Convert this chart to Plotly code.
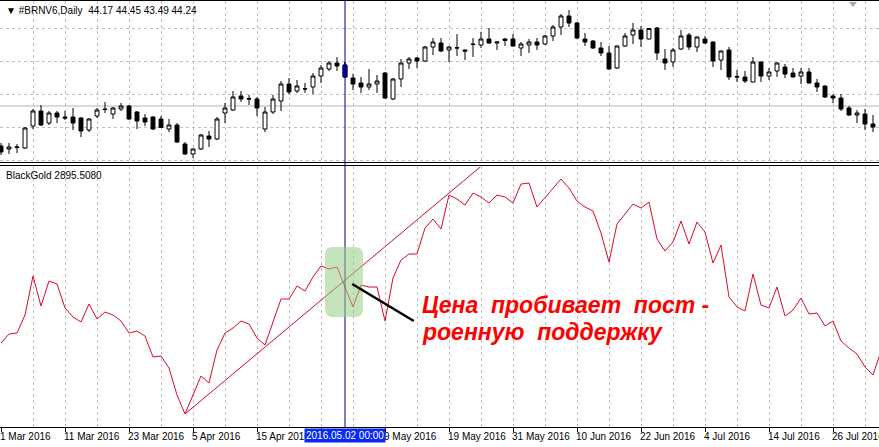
import plotly.graph_objects as go

# ---------------- data ----------------
bar_index = list(range(110))
open_ = [42.82, 42.58, 42.70, 42.66, 44.42, 45.62, 44.66, 45.46, 45.14, 45.14,
         45.06, 44.10, 45.22, 45.78, 45.38, 45.78, 46.02, 45.54, 45.06, 45.14,
         44.98, 44.18, 44.50, 42.98, 42.18, 42.58, 43.62, 43.38, 45.46, 45.70,
         46.82, 46.62, 46.58, 44.18, 45.54, 46.42, 47.78, 47.22, 47.38, 47.54,
         48.42, 48.98, 49.46, 49.30, 48.26, 47.86, 47.54, 47.78, 48.66, 46.58,
         48.18, 49.46, 49.86, 49.62, 50.74, 51.06, 50.50, 50.66, 50.50, 50.98,
         50.90, 51.38, 51.06, 51.38, 51.38, 50.66, 50.90, 51.14, 50.98, 51.62,
         52.34, 53.22, 52.66, 51.38, 51.22, 50.66, 50.26, 49.06, 50.82, 51.70,
         52.10, 51.38, 52.26, 49.78, 49.54, 50.58, 51.70, 50.74, 51.38, 51.14,
         49.70, 50.50, 48.38, 48.34, 47.94, 49.54, 48.42, 48.82, 49.14, 48.66,
         48.42, 48.74, 47.86, 47.62, 46.82, 46.66, 45.86, 45.30, 45.38, 44.58]
high = [43.06, 43.06, 42.98, 44.34, 45.78, 46.10, 45.62, 45.62, 45.62, 45.86,
        45.14, 45.06, 45.86, 46.34, 45.94, 46.26, 46.10, 45.62, 45.38, 45.20,
        45.22, 44.98, 44.66, 43.14, 42.60, 43.78, 44.02, 45.14, 46.26, 47.22,
        47.22, 46.90, 46.74, 45.94, 46.90, 48.02, 48.26, 48.10, 47.86, 48.66,
        49.30, 49.62, 49.94, 49.54, 48.58, 48.34, 48.98, 48.50, 48.74, 48.26,
        49.78, 49.94, 49.94, 50.82, 51.46, 51.46, 50.82, 51.78, 50.54, 51.46,
        51.94, 52.26, 51.16, 51.46, 51.78, 51.14, 51.38, 51.46, 51.70, 52.50,
        53.38, 53.70, 52.74, 51.86, 51.30, 51.14, 50.82, 50.86, 51.86, 52.66,
        52.42, 52.26, 52.34, 50.58, 50.66, 52.10, 51.86, 51.58, 51.62, 51.18,
        50.46, 50.74, 48.90, 48.82, 49.94, 49.58, 49.06, 49.50, 49.38, 49.06,
        49.06, 49.06, 48.18, 47.66, 46.98, 46.98, 46.02, 45.70, 45.78, 45.30]
low = [42.10, 42.18, 42.26, 42.58, 44.18, 44.42, 44.50, 44.66, 44.90, 44.10,
       43.54, 43.94, 45.06, 45.46, 44.98, 45.62, 44.90, 44.18, 44.42, 44.10,
       44.26, 43.94, 43.06, 42.10, 41.86, 42.50, 42.74, 43.30, 44.66, 45.62,
       46.34, 46.10, 45.22, 43.94, 45.38, 45.62, 46.98, 47.06, 47.06, 46.98,
       47.86, 48.82, 48.82, 48.26, 47.30, 47.06, 47.30, 47.06, 46.62, 46.50,
       47.54, 48.98, 49.06, 49.54, 50.10, 50.34, 49.54, 50.02, 49.70, 49.94,
       50.66, 50.98, 50.50, 50.82, 50.78, 50.02, 50.26, 50.50, 50.90, 51.22,
       51.70, 52.34, 51.38, 50.82, 50.58, 50.02, 48.94, 48.98, 50.74, 50.98,
       50.74, 51.34, 49.70, 48.90, 49.14, 50.50, 50.50, 50.34, 50.98, 49.14,
       48.90, 48.10, 47.94, 47.86, 47.90, 47.94, 48.10, 48.34, 48.26, 48.30,
       47.78, 47.82, 47.14, 46.66, 46.26, 45.62, 45.22, 44.66, 44.10, 43.94]
close = [42.34, 42.74, 42.74, 44.26, 45.62, 44.50, 45.46, 45.14, 45.06, 44.66,
         44.02, 44.98, 45.70, 45.74, 45.86, 46.02, 44.98, 44.82, 44.74, 44.18,
         44.30, 44.50, 43.14, 42.18, 42.58, 43.70, 43.38, 44.98, 45.86, 46.74,
         46.58, 46.58, 45.86, 45.54, 46.58, 47.78, 47.14, 47.62, 47.40, 48.42,
         49.06, 49.46, 49.22, 48.34, 47.78, 47.54, 47.78, 48.02, 46.66, 48.18,
         49.46, 49.78, 49.62, 50.74, 51.14, 50.42, 50.74, 50.68, 50.42, 50.94,
         51.38, 51.06, 51.14, 51.26, 50.82, 50.98, 51.14, 50.90, 51.62, 52.34,
         53.22, 52.66, 51.46, 51.14, 50.66, 50.26, 48.98, 50.82, 51.62, 52.10,
         51.38, 52.22, 50.26, 49.46, 50.50, 51.62, 50.74, 51.54, 51.06, 49.62,
         50.42, 48.34, 48.34, 48.02, 49.54, 48.42, 48.74, 49.46, 48.58, 48.34,
         48.74, 47.86, 47.54, 46.74, 46.66, 45.78, 45.30, 45.46, 44.58, 44.34]

indicator_index = list(range(111))
blackgold = [3055, 3100, 3105, 3195, 3390, 3240, 3365, 3350, 3230, 3185,
             3160, 3250, 3175, 3210, 3195, 3165, 3105, 3115, 3090, 2985,
             2990, 2930, 2795, 2700, 2795, 2890, 2855, 3020, 3105, 3130,
             3165, 3150, 3080, 3045, 3160, 3275, 3275, 3340, 3315, 3385,
             3440, 3425, 3435, 3330, 3235, 3345, 3335, 3335, 3165, 3380,
             3470, 3500, 3500, 3630, 3675, 3625, 3795, 3775, 3745, 3805,
             3785, 3755, 3795, 3785, 3755, 3850, 3855, 3735, 3780, 3830,
             3875, 3830, 3765, 3735, 3715, 3605, 3460, 3650, 3700, 3750,
             3730, 3760, 3575, 3515, 3560, 3665, 3550, 3660, 3610, 3455,
             3545, 3285, 3235, 3215, 3400, 3245, 3230, 3335, 3190, 3220,
             3280, 3200, 3205, 3140, 3165, 3065, 3030, 3000, 2935, 2895,
             3015]

trend_x = [23, 59.9]
trend_y = [2700, 3935]

tick_idx = [0, 8, 16, 24, 32, 40, 48, 56, 64, 72, 80, 88, 96, 104]
tick_text = ["1 Mar 2016", "11 Mar 2016", "23 Mar 2016", "5 Apr 2016", "15 Apr 2016",
             "27 Apr 2016", "9 May 2016", "19 May 2016", "31 May 2016", "10 Jun 2016",
             "22 Jun 2016", "4 Jul 2016", "14 Jul 2016", "26 Jul 2016"]
price_grid = [41.70, 44.34, 46.98, 49.62, 52.26]
level_price = 46.02
cursor_idx = 43
cursor_label = "2016.05.02 00:00"
header_text = "▼ #BRNV6,Daily  44.17 44.45 43.49 44.24"
indicator_label = "BlackGold 2895.5080"
note_lines = ["Цена  пробивает  пост -", "роенную  поддержку"]

# ---------------- figure ----------------
W, H = 879, 447
FONT = "Tahoma, 'Liberation Sans', Arial, sans-serif"
GRID = "#c0c0c0"

fig = go.Figure()

fig.add_trace(go.Candlestick(
    x=bar_index, open=open_, high=high, low=low, close=close,
    xaxis="x", yaxis="y",
    increasing=dict(line=dict(color="black", width=1), fillcolor="white"),
    decreasing=dict(line=dict(color="black", width=1), fillcolor="black"),
    whiskerwidth=0, showlegend=False, hoverinfo="skip"))

# highlighted candle under the cursor
c = cursor_idx
fig.add_trace(go.Candlestick(
    x=[bar_index[c]], open=[open_[c]], high=[high[c]], low=[low[c]], close=[close[c]],
    xaxis="x", yaxis="y",
    increasing=dict(line=dict(color="#000080", width=1), fillcolor="#000080"),
    decreasing=dict(line=dict(color="#000080", width=1), fillcolor="#000080"),
    whiskerwidth=0, showlegend=False, hoverinfo="skip"))

fig.add_trace(go.Scatter(
    x=indicator_index, y=blackgold, mode="lines", xaxis="x2", yaxis="y2",
    line=dict(color="#dc0a28", width=1), showlegend=False, hoverinfo="skip"))

fig.add_trace(go.Scatter(
    x=trend_x, y=trend_y, mode="lines", xaxis="x2", yaxis="y2",
    line=dict(color="#c4102e", width=1), showlegend=False, hoverinfo="skip"))

x_range = [-0.125, 109.75]
top_dom = [0.6209, 1.0]
bot_dom = [0.0, 0.6138]

common_x = dict(range=x_range, autorange=False, tickmode="array", tickvals=tick_idx,
                showgrid=True, gridcolor=GRID, griddash="3px,3px", gridwidth=1,
                minor=dict(tick0=4, dtick=8, showgrid=True, gridcolor=GRID,
                           griddash="3px,3px", gridwidth=1),
                showline=True, mirror=True, linecolor="black", linewidth=1,
                zeroline=False, fixedrange=True, automargin=False)

fig.update_layout(
    width=W, height=H,
    margin=dict(l=0, r=0, t=1, b=20, autoexpand=False),
    paper_bgcolor="white", plot_bgcolor="white",
    font=dict(family=FONT, size=10, color="black"),
    boxgap=0.3,
    xaxis=dict(common_x, anchor="y", domain=[0, 1], showticklabels=False, ticks="",
               rangeslider=dict(visible=False)),
    yaxis=dict(domain=top_dom, anchor="x", range=[41.50, 54.42], tickmode="array",
               tickvals=price_grid, showticklabels=False, ticks="",
               showgrid=True, gridcolor=GRID, griddash="3px,3px",
               showline=True, linecolor="black", zeroline=False, automargin=False),
    xaxis2=dict(common_x, anchor="y2", domain=[0, 1], ticktext=tick_text,
                ticks="outside", ticklen=4, tickcolor="black", tickangle=0,
                ticklabelposition="outside right", ticklabeloverflow="allow",
                ticklabelshift=-2,
                tickfont=dict(family=FONT, size=10, color="black"),
                rangeslider=dict(visible=False)),
    yaxis2=dict(domain=bot_dom, anchor="x2", range=[2635, 3942.5],
                showgrid=False, showticklabels=False, ticks="",
                showline=True, linecolor="black", zeroline=False, automargin=False),
)

shapes = []
# horizontal level line in price panel
shapes.append(dict(type="line", xref="paper", yref="y", x0=0, x1=1,
                   y0=level_price, y1=level_price,
                   line=dict(color="#b4b4b4", width=1), layer="below"))
# crosshair
shapes.append(dict(type="line", xref="x", yref="paper", x0=cursor_idx, x1=cursor_idx,
                   y0=0, y1=1, line=dict(color="#000080", width=1)))
# shift marker triangle
shapes.append(dict(type="path", xref="x", yref="y",
                   path="M 106,54.34 L 107,54.34 L 106.5,53.94 Z",
                   fillcolor="#a8a8a8", line=dict(width=0)))
# green highlight box (rounded)
x0, x1, y0, y1, rx, ry = 40.5, 45.25, 3185, 3535, 1.0, 40
p = (f"M {x0+rx},{y1} L {x1-rx},{y1} Q {x1},{y1} {x1},{y1-ry} "
     f"L {x1},{y0+ry} Q {x1},{y0} {x1-rx},{y0} L {x0+rx},{y0} "
     f"Q {x0},{y0} {x0},{y0+ry} L {x0},{y1-ry} Q {x0},{y1} {x0+rx},{y1} Z")
shapes.append(dict(type="path", xref="x2", yref="y2", path=p,
                   fillcolor="#97ce85", opacity=0.55, line=dict(width=0), layer="above"))
# pointer line
shapes.append(dict(type="line", xref="x2", yref="y2", x0=43.9, y0=3350, x1=51.6, y1=3165,
                   line=dict(color="black", width=2.5)))
fig.update_layout(shapes=shapes)

annotations = [
    dict(text=header_text, xref="paper", yref="paper", x=4 / W, y=1, xanchor="left",
         yanchor="top", yshift=-2, showarrow=False,
         font=dict(family=FONT, size=10, color="black")),
    dict(text=indicator_label, xref="paper", yref="y2 domain", x=4 / W, y=1,
         xanchor="left", yanchor="top", yshift=-2, showarrow=False,
         font=dict(family=FONT, size=10, color="black")),
    dict(text=cursor_label, xref="x2", yref="paper", x=cursor_idx, y=0,
         xanchor="center", yanchor="top", yshift=-1, showarrow=False,
         bgcolor="#0a2af0", borderpad=1,
         font=dict(family=FONT, size=10, color="white")),
    dict(text=note_lines[0], xref="x2", yref="y2", x=52.4, y=3247, xanchor="left",
         yanchor="middle", showarrow=False,
         font=dict(family="'Liberation Sans', Arial, sans-serif", size=23, color="#ff0000",
                   style="italic", weight="bold")),
    dict(text=note_lines[1], xref="x2", yref="y2", x=52.4, y=3112, xanchor="left",
         yanchor="middle", showarrow=False,
         font=dict(family="'Liberation Sans', Arial, sans-serif", size=23, color="#ff0000",
                   style="italic", weight="bold")),
]
fig.update_layout(annotations=annotations)

fig.write_html("out.html", config={"displayModeBar": False},
               post_script="document.body.style.margin='0';document.body.style.padding='0';")
